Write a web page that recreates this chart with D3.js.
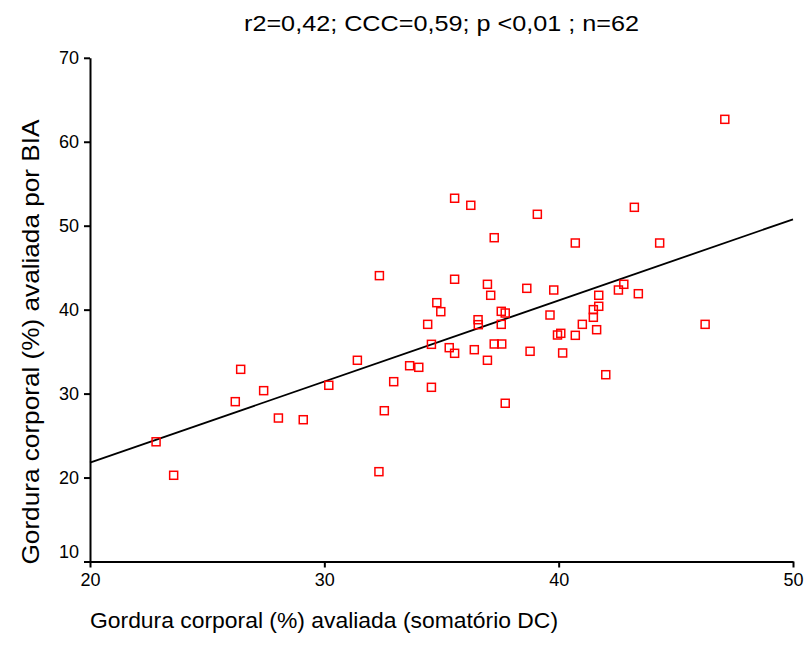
<!DOCTYPE html>
<html>
<head>
<meta charset="utf-8">
<script src="https://cdn.jsdelivr.net/npm/d3@7"></script>
<style>
    body { margin: 0; background: #fff; }
    text { font-family: "Liberation Sans", Arial, sans-serif; fill: #000; }
    .axis path, .axis line { stroke: #000; stroke-width: 2px; }
    .axis text { font-size: 18px; }
</style>
</head>
<body>
<div id="chart"></div>
<script>

// Data
var xVals = [22.82, 23.57, 26.43, 26.20, 27.41, 28.04, 29.10, 30.19, 31.41, 32.33,
             32.56, 32.96, 33.64, 34.03, 34.57, 32.35, 35.56, 36.96, 38.64, 39.79,
             37.10, 34.80, 34.97, 37.55, 37.72, 39.63, 36.56, 36.57, 34.41, 37.55,
             39.95, 40.09, 40.71, 34.57, 35.33, 35.56, 36.40, 37.25, 37.57, 38.78,
             40.17, 36.96, 37.72, 40.71, 44.31, 42.78, 42.55, 43.40, 41.71, 41.71,
             41.48, 41.48, 41.01, 41.62, 46.25, 42.01, 35.56, 36.25, 39.09, 37.25,
             43.23, 47.09];
var yVals = [24.26, 20.27, 32.89, 29.04, 30.35, 27.09, 26.89, 30.99, 33.97, 20.70,
             27.96, 31.42, 33.32, 33.13, 30.75, 44.05, 43.62, 43.02, 42.54, 42.34,
             41.71, 40.83, 39.76, 39.80, 39.60, 39.36, 38.80, 38.21, 38.25, 38.25,
             36.98, 37.18, 36.94, 35.87, 35.47, 34.80, 35.23, 35.91, 35.91, 35.04,
             34.84, 33.97, 28.85, 47.94, 47.94, 43.02, 42.34, 41.90, 41.71, 40.40,
             40.00, 39.09, 38.25, 37.61, 38.25, 32.25, 53.27, 52.43, 51.36, 48.57,
             52.19, 62.67];

// regression line end points
var fitX = [20, 50];
var fitY = [21.77, 50.76];

var xTicks = [20, 30, 40, 50];
var yTicks = [10, 20, 30, 40, 50, 60, 70];

var titleText = "r2=0,42; CCC=0,59; p <0,01 ; n=62";
var xLabel = "Gordura corporal (%) avaliada (somatório DC)";
var yLabel = "Gordura corporal (%) avaliada por BIA";


var margin = { top: 57.8, right: 14, bottom: 96.5, left: 90 };
var width = 807 - margin.left - margin.right;
var height = 658 - margin.top - margin.bottom;

var svg = d3.select("#chart").append("svg")
    .attr("width", 807)
    .attr("height", 658);

var g = svg.append("g")
    .attr("transform", "translate(" + margin.left + "," + margin.top + ")");

// Scales and axes
var x = d3.scaleLinear()
    .domain([20, 50])
    .range([0, width]);

var y = d3.scaleLinear()
    .domain([10, 70])
    .range([height, 0]);

var xAxis = d3.axisBottom(x)
    .tickValues(xTicks)
    .tickSize(6)
    .tickSizeOuter(0)
    .tickPadding(6);

var yAxis = d3.axisLeft(y)
    .tickValues(yTicks)
    .tickSize(6)
    .tickSizeOuter(0)
    .tickPadding(5);

g.append("g")
    .attr("class", "x-axis axis")
    .attr("transform", "translate(0," + height + ")")
    .call(xAxis);

var yg = g.append("g")
    .attr("class", "y-axis axis")
    .call(yAxis);

// the bottom label sits a bit above its tick
yg.selectAll(".tick text")
    .filter(function(d) { return d === 10; })
    .attr("dy", "-0.2em");

// regression line
var line = d3.line()
    .x(function(d) { return x(d[0]); })
    .y(function(d) { return y(d[1]); });

g.append("path")
    .datum(fitX.map(function(v, i) { return [v, fitY[i]]; }))
    .attr("d", line)
    .attr("fill", "none")
    .attr("stroke", "#000")
    .attr("stroke-width", 1.8);

// points (hollow red squares)
var sz = 8;
g.selectAll(".pt")
    .data(xVals.map(function(v, i) { return [v, yVals[i]]; }))
    .enter()
    .append("rect")
    .attr("class", "pt")
    .attr("x", function(d) { return x(d[0]) - sz / 2; })
    .attr("y", function(d) { return y(d[1]) - sz / 2; })
    .attr("width", sz)
    .attr("height", sz)
    .attr("fill", "none")
    .attr("stroke", "#f00")
    .attr("stroke-width", 1.5);

// title and axis titles
svg.append("text")
    .attr("x", margin.left + width / 2)
    .attr("y", 31)
    .attr("text-anchor", "middle")
    .attr("textLength", 395)
    .attr("lengthAdjust", "spacingAndGlyphs")
    .style("font-size", "22px")
    .text(titleText);

svg.append("text")
    .attr("x", 90)
    .attr("y", 628)
    .attr("textLength", 468)
    .attr("lengthAdjust", "spacingAndGlyphs")
    .style("font-size", "22px")
    .text(xLabel);

svg.append("text")
    .attr("transform", "translate(39," + 342 + ") rotate(-90)")
    .attr("text-anchor", "middle")
    .attr("textLength", 445)
    .attr("lengthAdjust", "spacingAndGlyphs")
    .style("font-size", "24px")
    .text(yLabel);

</script>
</body>
</html>
